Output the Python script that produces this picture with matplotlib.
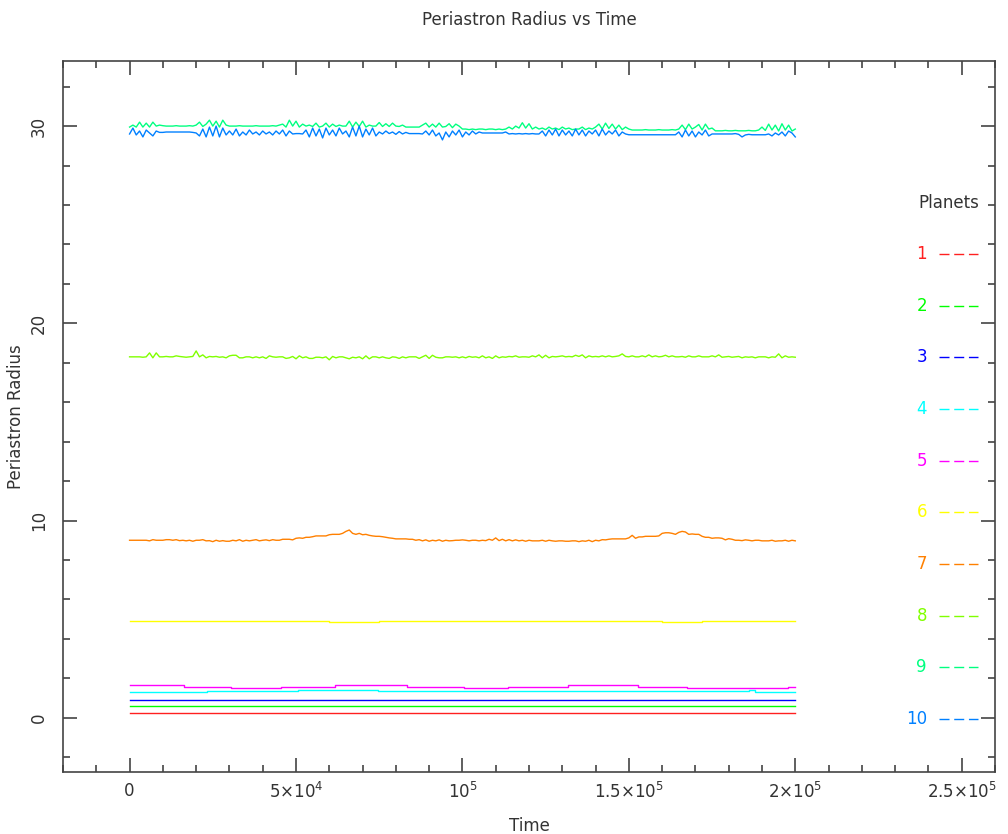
import numpy as np
import matplotlib.pyplot as plt

# ------------------------------------------------------------
# Periastron radius of each planet vs time
# ------------------------------------------------------------
time = np.arange(0, 201) * 1000  # one sample every 1000 time units

planets = ['1', '2', '3', '4', '5', '6', '7', '8', '9', '10']
colores = ['#ff2020', '#00ff00', '#0000ff', '#00ffff', '#ff00ff',
           '#ffff00', '#ff8000', '#80ff00', '#00ff80', '#0080ff']

# planets 1-3 stay flat
r_p1 = 0.25
r_p2 = 0.62
r_p3 = 0.92

# planets 4-6 change in small steps (time of change, level)
t_p4 = [0, 23400, 50500, 74500, 186000, 188000, 200000]
r_p4 = [1.32, 1.36, 1.42, 1.36, 1.40, 1.32, 1.32]

t_p5 = [0, 16400, 30400, 45400, 61700, 83400, 100600, 113600, 131800,
        152800, 167600, 197800, 200000]
r_p5 = [1.65, 1.58, 1.52, 1.58, 1.65, 1.58, 1.52, 1.58, 1.65,
        1.58, 1.52, 1.58, 1.58]

t_p6 = [0, 60000, 75000, 160000, 172000, 200000]
r_p6 = [4.90, 4.87, 4.90, 4.87, 4.90, 4.90]

# planets 7-10, one value per sample
r_p7 = [9.0, 9.0, 9.0, 9.0, 9.0, 9.0, 8.97, 9.03, 9.0, 9.0,
        9.0, 9.03, 9.03, 9.0, 9.03, 8.98, 9.0, 8.97, 9.0, 8.95,
        9.0, 9.0, 9.03, 8.97, 8.98, 8.93, 9.0, 8.95, 8.98, 8.95,
        8.95, 9.0, 8.97, 9.03, 8.95, 9.0, 8.97, 9.0, 9.03, 8.97,
        9.0, 9.02, 8.98, 9.03, 9.0, 9.0, 9.05, 9.05, 9.05, 9.02,
        9.1, 9.12, 9.1, 9.15, 9.15, 9.18, 9.22, 9.22, 9.22, 9.22,
        9.28, 9.3, 9.3, 9.3, 9.35, 9.45, 9.52, 9.35, 9.3, 9.35,
        9.28, 9.3, 9.25, 9.22, 9.2, 9.2, 9.18, 9.15, 9.12, 9.1,
        9.07, 9.07, 9.07, 9.07, 9.05, 9.05, 9.0, 9.03, 8.97, 9.02,
        8.95, 9.0, 8.97, 9.02, 8.95, 9.0, 8.97, 8.98, 9.0, 9.0,
        9.02, 9.0, 8.97, 9.0, 9.0, 8.97, 9.0, 8.98, 9.05, 9.0,
        9.12, 8.98, 9.05, 8.97, 9.03, 8.97, 9.02, 8.97, 9.0, 8.95,
        9.0, 8.97, 8.97, 8.97, 9.0, 8.95, 9.0, 8.97, 8.95, 8.97,
        8.97, 8.95, 8.95, 8.97, 8.97, 8.93, 8.97, 8.95, 9.0, 8.93,
        9.0, 8.97, 9.03, 9.02, 9.05, 9.07, 9.07, 9.07, 9.07, 9.07,
        9.12, 9.25, 9.1, 9.17, 9.17, 9.2, 9.2, 9.2, 9.2, 9.22,
        9.35, 9.38, 9.38, 9.35, 9.3, 9.4, 9.45, 9.42, 9.3, 9.32,
        9.3, 9.3, 9.2, 9.15, 9.15, 9.1, 9.12, 9.12, 9.1, 9.02,
        9.08, 9.05, 9.0, 9.0, 8.98, 9.02, 9.0, 8.97, 9.0, 9.0,
        8.97, 8.97, 8.97, 9.0, 8.95, 8.97, 8.97, 9.0, 8.95, 9.0,
        8.97]

r_p8 = [18.3, 18.3, 18.3, 18.3, 18.28, 18.3, 18.5, 18.25, 18.5, 18.3,
        18.3, 18.32, 18.3, 18.3, 18.35, 18.32, 18.3, 18.28, 18.3, 18.32,
        18.6, 18.3, 18.4, 18.25, 18.32, 18.3, 18.32, 18.28, 18.3, 18.25,
        18.35, 18.38, 18.38, 18.25, 18.25, 18.3, 18.3, 18.25, 18.3, 18.25,
        18.3, 18.22, 18.35, 18.3, 18.28, 18.3, 18.3, 18.22, 18.25, 18.32,
        18.2, 18.35, 18.25, 18.3, 18.22, 18.22, 18.28, 18.28, 18.25, 18.3,
        18.15, 18.32, 18.25, 18.3, 18.3, 18.25, 18.2, 18.28, 18.25, 18.3,
        18.2, 18.35, 18.2, 18.3, 18.3, 18.25, 18.3, 18.25, 18.22, 18.3,
        18.28, 18.22, 18.3, 18.25, 18.3, 18.3, 18.3, 18.22, 18.3, 18.38,
        18.22, 18.38, 18.28, 18.25, 18.25, 18.3, 18.3, 18.28, 18.3, 18.25,
        18.3, 18.25, 18.32, 18.28, 18.3, 18.25, 18.35, 18.25, 18.3, 18.22,
        18.35, 18.25, 18.3, 18.28, 18.32, 18.3, 18.35, 18.28, 18.3, 18.3,
        18.28, 18.35, 18.3, 18.4, 18.25, 18.38, 18.25, 18.32, 18.3, 18.32,
        18.35, 18.3, 18.32, 18.3, 18.38, 18.32, 18.4, 18.25, 18.35, 18.3,
        18.32, 18.3, 18.35, 18.3, 18.35, 18.3, 18.32, 18.35, 18.45, 18.32,
        18.3, 18.35, 18.3, 18.3, 18.35, 18.3, 18.4, 18.3, 18.35, 18.3,
        18.32, 18.38, 18.3, 18.35, 18.3, 18.3, 18.32, 18.28, 18.35, 18.3,
        18.3, 18.35, 18.3, 18.3, 18.3, 18.35, 18.3, 18.4, 18.28, 18.3,
        18.32, 18.28, 18.3, 18.32, 18.25, 18.3, 18.28, 18.3, 18.25, 18.3,
        18.3, 18.3, 18.25, 18.3, 18.28, 18.45, 18.25, 18.35, 18.28, 18.3,
        18.28]

r_p9 = [29.95, 30.05, 29.95, 30.2, 29.95, 30.15, 29.95, 30.2, 30.0, 30.05,
        30.02, 30.0, 30.0, 30.0, 30.02, 30.0, 30.0, 30.0, 30.02, 30.0,
        30.05, 30.2, 29.98, 30.1, 30.3, 30.0, 30.25, 29.95, 30.3, 30.05,
        30.0, 30.0, 30.0, 30.02, 30.0, 30.0, 30.0, 30.0, 30.02, 30.0,
        30.0, 30.0, 30.0, 30.02, 30.0, 30.05, 30.1, 29.95, 30.3, 30.0,
        30.25, 29.95, 30.1, 30.0, 30.05, 29.98, 30.15, 29.95, 30.0, 30.15,
        29.95, 30.1, 29.98, 30.05, 30.0, 30.0, 30.25, 29.95, 30.2, 29.98,
        30.25, 29.95, 30.05, 30.0, 30.0, 30.18, 29.98, 30.12, 29.98, 30.15,
        30.0, 29.98, 30.05, 29.95, 29.95, 29.95, 29.95, 29.95, 30.05, 30.15,
        29.95, 30.1, 29.95, 30.15, 29.95, 29.98, 30.12, 29.92, 30.1, 30.0,
        29.85, 29.85, 29.82, 29.85, 29.82, 29.85, 29.85, 29.82, 29.85, 29.85,
        29.82, 29.85, 29.82, 29.85, 29.95, 29.85, 30.0, 29.9, 30.17, 29.9,
        30.12, 29.85, 29.95, 29.85, 29.9, 29.82, 29.95, 29.85, 29.9, 29.82,
        29.95, 29.85, 29.9, 29.82, 29.85, 29.85, 29.95, 29.82, 29.9, 29.85,
        29.95, 30.1, 29.85, 30.15, 29.88, 30.1, 29.85, 30.05, 29.82, 29.95,
        29.85, 29.8, 29.8, 29.8, 29.8, 29.82, 29.8, 29.8, 29.8, 29.82,
        29.8, 29.8, 29.8, 29.82, 29.8, 29.85, 30.05, 29.82, 30.1, 29.85,
        29.95, 30.08, 29.8, 30.1, 29.85, 29.9, 29.76, 29.76, 29.76, 29.78,
        29.76, 29.76, 29.78, 29.76, 29.76, 29.76, 29.78, 29.76, 29.76, 29.8,
        29.95, 29.78, 30.1, 29.8, 30.05, 29.75, 30.12, 29.8, 30.05, 29.75,
        29.85]

r_p10 = [29.6, 29.9, 29.55, 29.75, 29.45, 29.8, 29.65, 29.5, 29.75, 29.68,
         29.68, 29.7, 29.7, 29.7, 29.7, 29.7, 29.7, 29.7, 29.7, 29.68,
         29.65, 29.5, 29.85, 29.45, 29.95, 29.5, 30.0, 29.45, 29.9, 29.55,
         29.75, 29.55, 29.85, 29.5, 29.7, 29.55, 29.8, 29.6, 29.7, 29.55,
         29.75, 29.6, 29.7, 29.55, 29.75, 29.6, 29.8, 29.5, 29.75, 29.6,
         29.62, 29.62, 29.6, 29.8, 29.45, 29.9, 29.5, 29.85, 29.4, 29.9,
         29.55, 29.8, 29.5, 29.9, 29.6, 29.75, 29.45, 29.95, 29.5, 30.0,
         29.45, 29.85, 29.55, 29.9, 29.5, 29.7, 29.6, 29.75, 29.62, 29.7,
         29.58, 29.72, 29.6, 29.68, 29.62, 29.62, 29.62, 29.62, 29.6, 29.75,
         29.55, 29.8, 29.5, 29.65, 29.3, 29.7, 29.45, 29.75, 29.55, 29.8,
         29.45, 29.7, 29.55, 29.75, 29.6, 29.7, 29.65, 29.65, 29.65, 29.65,
         29.65, 29.65, 29.65, 29.7, 29.6, 29.62, 29.6, 29.62, 29.6, 29.62,
         29.6, 29.62, 29.6, 29.6, 29.75, 29.5, 29.8, 29.55, 29.85, 29.5,
         29.8, 29.55, 29.75, 29.5, 29.85, 29.55, 29.8, 29.5, 29.75, 29.6,
         29.8, 29.5, 29.85, 29.55, 29.75, 29.6, 29.8, 29.5, 29.7, 29.6,
         29.56, 29.56, 29.56, 29.56, 29.56, 29.56, 29.56, 29.56, 29.56, 29.56,
         29.56, 29.56, 29.56, 29.56, 29.56, 29.7, 29.45, 29.8, 29.5, 29.75,
         29.45, 29.7, 29.55, 29.8, 29.5, 29.6, 29.6, 29.6, 29.6, 29.6,
         29.6, 29.6, 29.62, 29.58, 29.45, 29.55, 29.58, 29.56, 29.56, 29.56,
         29.56, 29.56, 29.6, 29.5, 29.65, 29.55, 29.7, 29.5, 29.75, 29.65,
         29.45]

xticks = [0, 50000, 100000, 150000, 200000, 250000]
xtick_labels = ['0', r'$\mathregular{5{\times}10^4}$', r'$\mathregular{10^5}$',
                r'$\mathregular{1.5{\times}10^5}$', r'$\mathregular{2{\times}10^5}$',
                r'$\mathregular{2.5{\times}10^5}$']
yticks = [0, 10, 20, 30]

# ------------------------------------------------------------
# Figure
# ------------------------------------------------------------
fig = plt.figure(figsize=(10.08, 8.34), dpi=100)
ax = fig.add_axes([63 / 1008, 62 / 834, 932 / 1008, 711 / 834])

lw = 1.0
ax.plot(time, np.full(len(time), r_p1), color=colores[0], lw=lw)
ax.plot(time, np.full(len(time), r_p2), color=colores[1], lw=lw)
ax.plot(time, np.full(len(time), r_p3), color=colores[2], lw=lw)
ax.plot(t_p4, r_p4, color=colores[3], lw=lw, drawstyle='steps-post')
ax.plot(t_p5, r_p5, color=colores[4], lw=lw, drawstyle='steps-post')
ax.plot(t_p6, r_p6, color=colores[5], lw=lw, drawstyle='steps-post')
ax.plot(time, r_p7, color=colores[6], lw=lw)
ax.plot(time, r_p8, color=colores[7], lw=lw)
ax.plot(time, r_p9, color=colores[8], lw=lw)
ax.plot(time, r_p10, color=colores[9], lw=lw)

ax.set_xlim(-20000, 260000)
ax.set_ylim(-2.75, 33.3)

txt_color = '#333333'
fs = 12
for sp in ax.spines.values():
    sp.set_color('#444444')
    sp.set_linewidth(1.2)

ax.set_xticks(xticks)
ax.set_xticklabels(xtick_labels)
ax.set_xticks(np.arange(-20000, 260001, 10000), minor=True)
ax.set_yticks(yticks)
ax.set_yticks(np.arange(-2, 33, 2), minor=True)
ax.tick_params(which='both', direction='in', top=True, right=True,
               color='#444444', labelcolor=txt_color, labelsize=fs)
ax.tick_params(which='major', length=10, width=1.2)
ax.tick_params(which='minor', length=5, width=1.2)
ax.tick_params(axis='x', pad=7)
ax.tick_params(axis='y', pad=11)
for lab in ax.get_yticklabels():
    lab.set_rotation(90)
    lab.set_va('center')

ax.set_xlabel('Time', fontsize=fs, color=txt_color)
ax.xaxis.set_label_coords(0.5, -0.063)
ax.set_ylabel('Periastron Radius', fontsize=fs, color=txt_color)
ax.yaxis.set_label_coords(-0.041, 0.5)

fig.text(529 / 1008, 1 - 20 / 834, 'Periastron Radius vs Time', ha='center',
         va='center', fontsize=fs, color=txt_color)

# Legend drawn by hand, label on the left and dashed line on the right
ax.text(0.9506, 0.80, 'Planets', transform=ax.transAxes, ha='center',
        va='center', fontsize=fs, color=txt_color)
for i, (nombre, c) in enumerate(zip(planets, colores)):
    yy = 0.7286 - i * 0.0727
    ax.text(0.927, yy, nombre, transform=ax.transAxes, ha='right',
            va='center', fontsize=fs, color=c)
    ax.plot([0.940, 0.982], [yy, yy], transform=ax.transAxes, color=c,
            lw=1.0, linestyle=(0, (7.2, 3.4)))

plt.savefig('out.png', dpi=100)
